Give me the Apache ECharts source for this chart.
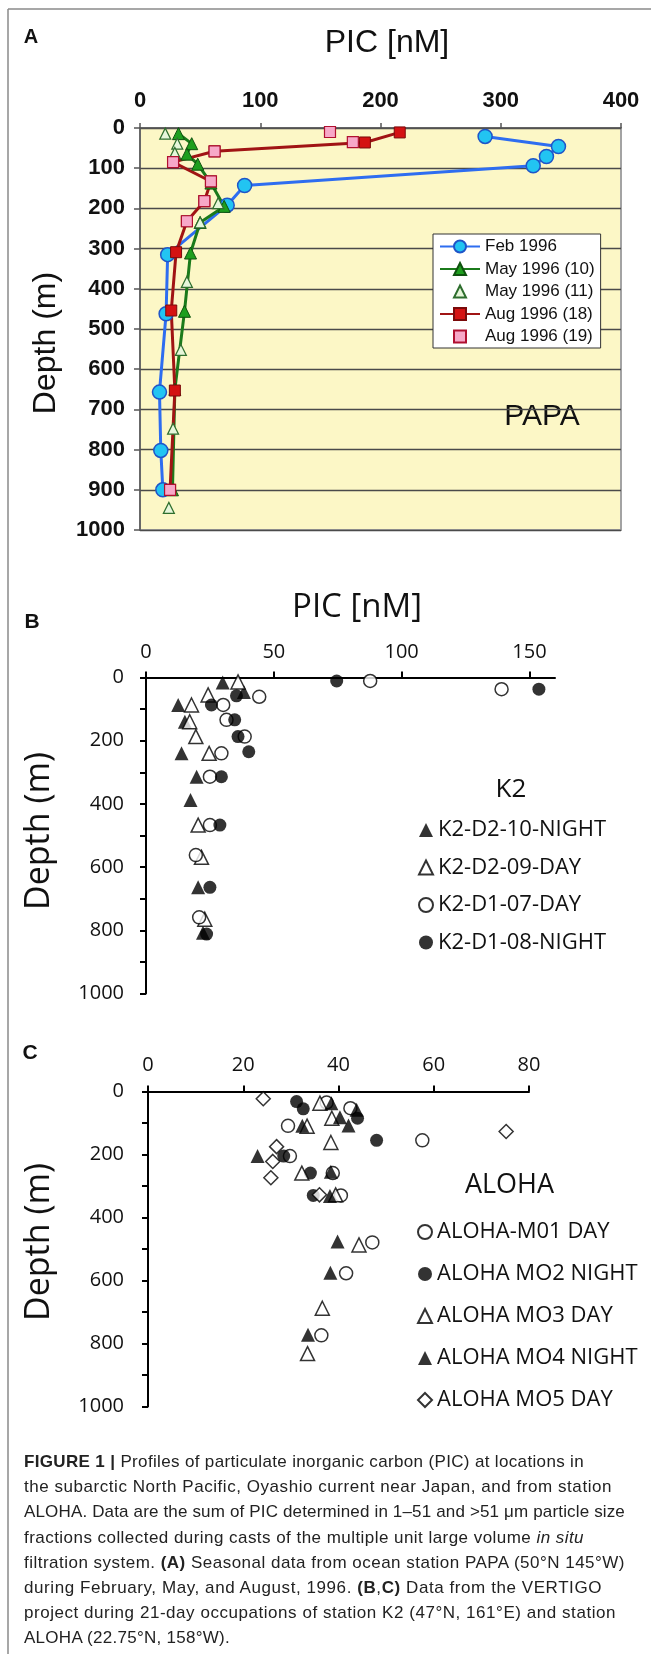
<!DOCTYPE html>
<html><head><meta charset="utf-8">
<script src="https://cdn.jsdelivr.net/npm/echarts@6/dist/echarts.min.js"></script>
<style>
html,body{margin:0;padding:0;background:#fff;}
#chart{position:absolute;left:0;top:0;width:651px;height:1654px;}
#cap{position:absolute;left:24px;top:1449px;font-family:'Liberation Sans',Arial,sans-serif;font-size:17px;line-height:25.2px;color:#222;}
#cap div{white-space:nowrap;}
</style></head><body>
<div id="chart"></div>
<div id="cap">
<div data-w="560"><b>FIGURE 1 |</b> Profiles of particulate inorganic carbon (PIC) at locations in</div>
<div data-w="588">the subarctic North Pacific, Oyashio current near Japan, and from station</div>
<div data-w="601">ALOHA. Data are the sum of PIC determined in 1–51 and &gt;51 μm particle size</div>
<div data-w="560">fractions collected during casts of the multiple unit large volume <i>in situ</i></div>
<div data-w="601">filtration system. <b>(A)</b> Seasonal data from ocean station PAPA (50°N 145°W)</div>
<div data-w="578">during February, May, and August, 1996. <b>(B</b>,<b>C)</b> Data from the VERTIGO</div>
<div data-w="592">project during 21-day occupations of station K2 (47°N, 161°E) and station</div>
<div data-w="206">ALOHA (22.75°N, 158°W).</div>
</div>
<script>
// ---------- Panel A: PAPA ----------
const papaXTicks = [0, 100, 200, 300, 400];
const febPIC = [287, 348, 338, 327, 87, 72.5, 23, 21.7, 16.2, 17.3, 19];
const febDepth = [21, 46, 71, 94, 143, 192, 315, 462, 657, 802, 900];
const may10PIC = [32, 43, 39, 48, 59, 70, 50, 42, 37, 29, 27];
const may10Depth = [14, 39, 65, 90, 137, 195, 235, 311, 456, 650, 900];
const may11PIC = [21, 31, 29, 65, 50, 39, 34, 27.5, 24];
const may11Depth = [14, 39, 62, 187, 235, 383, 552, 748, 945];
const aug18PIC = [216, 187, 62, 27.5, 59, 53.5, 39, 30, 26, 29, 25];
const aug18Depth = [11, 36, 58, 85, 133, 182, 232, 309, 454, 653, 900];
const aug19PIC = [158, 177, 62, 27.5, 59, 53.5, 39, 25];
const aug19Depth = [10, 35, 58, 85, 133, 182, 232, 900];

// ---------- Panel B: K2 ----------
const k2XTicks = [0, 50, 100, 150];
const k2D210PIC = [30, 38.3, 12.6, 15.2, 13.9, 19.8, 17.4, 20.4, 22.3];
const k2D210Depth = [16, 46, 87, 140, 240, 314, 388, 664, 808];
const k2D209PIC = [36, 24.3, 17.8, 17.1, 19.5, 24.7, 20.4, 21.7, 23];
const k2D209Depth = [14, 55, 87, 140, 187, 240, 467, 569, 765];
const k2D107PIC = [87.7, 139.1, 44.3, 30.2, 31.5, 38.6, 29.5, 25, 25, 19.5, 20.8];
const k2D107Depth = [11, 37, 61, 87, 134, 187, 240, 314, 467, 562, 759];
const k2D108PIC = [74.6, 153.7, 35.4, 25.6, 34.7, 36, 40.2, 29.5, 28.9, 25, 23.7];
const k2D108Depth = [11, 37, 58, 87, 134, 187, 235, 314, 467, 664, 812];

// ---------- Panel C: ALOHA ----------
const alohaXTicks = [0, 20, 40, 60, 80];
const m01PIC = [37.5, 42.5, 29.4, 57.6, 29.8, 38.8, 40.5, 47.1, 41.6, 36.4];
const m01Depth = [35, 53, 109, 155, 205, 259, 330, 479, 577, 774];
const m02PIC = [31.2, 32.6, 44, 48, 28.5, 34.1, 34.7];
const m02Depth = [32, 55, 85, 155, 205, 259, 330];
const m03PIC = [36.1, 38.6, 33.4, 38.4, 32.3, 39.4, 44.3, 36.6, 33.5];
const m03Depth = [37, 85, 110, 162, 259, 328, 487, 688, 832];
const m04PIC = [38.5, 43.8, 40.3, 42.1, 32.4, 23, 38.4, 38.2, 39.8, 38.3, 33.6];
const m04Depth = [37, 58, 82, 108, 109, 205, 255, 332, 476, 575, 772];
const m05PIC = [24.2, 75.2, 27, 26.2, 25.8, 36];
const m05Depth = [23, 127, 175, 222, 274, 328];

const depthTicksAll = [0, 100, 200, 300, 400, 500, 600, 700, 800, 900, 1000];
const depthLabelsBC = [0, 200, 400, 600, 800, 1000];

// ---------- build ----------
const FA = 'Liberation Sans';
const FB = 'Open Sans';
function pairs(xs, ys) { return xs.map((v, i) => [v, ys[i]]); }
const plain = function (v) { return String(v); };

const chart = echarts.init(document.getElementById('chart'), null, {renderer: 'canvas'});

function bcXAxis(grid, max, ticks, margin) {
  return {
    gridIndex: grid, type: 'value', position: 'top', min: 0, max: max,
    axisLine: {show: true, lineStyle: {color: '#000', width: 2}},
    axisTick: {show: true, length: 6, customValues: ticks, lineStyle: {color: '#000', width: 2}},
    axisLabel: {customValues: ticks, formatter: plain, fontFamily: FB, fontSize: 20, color: '#111', margin: margin},
    splitLine: {show: false}
  };
}
function bcYAxis(grid, margin) {
  return {
    gridIndex: grid, type: 'value', inverse: true, min: 0, max: 1000,
    axisLine: {show: true, onZero: false, lineStyle: {color: '#000', width: 2}},
    axisTick: {show: true, length: 6, customValues: depthTicksAll, lineStyle: {color: '#000', width: 2}},
    axisLabel: {customValues: depthLabelsBC, formatter: plain, fontFamily: FB, fontSize: 20, color: '#111', margin: margin},
    splitLine: {show: false}
  };
}
const openBlack = {color: '#fff', borderColor: '#000', borderWidth: 1.5};
const fillBlack = {color: '#000', borderColor: '#000', borderWidth: 0};

function sc(name, xi, xs, ys, symbol, size, style) {
  return {name: name, type: 'scatter', xAxisIndex: xi, yAxisIndex: xi, data: pairs(xs, ys),
    symbol: symbol, symbolSize: size, itemStyle: style, emphasis: {disabled: true}};
}
// marker-only series in panel A drawn as line series with a hidden line, so the legend shows a centred marker
function markOnly(name, xs, ys, symbol, size, style) {
  return {name: name, type: 'line', xAxisIndex: 0, yAxisIndex: 0, data: pairs(xs, ys),
    symbol: symbol, symbolSize: size, showAllSymbol: true, itemStyle: style,
    lineStyle: {width: 0, opacity: 0}, emphasis: {disabled: true}};
}

const option = {
  animation: false,
  backgroundColor: '#fff',
  grid: [
    {left: 140, top: 128, width: 481, height: 402, show: true, backgroundColor: '#FCF7C6', borderColor: '#a3a3a3', borderWidth: 2},
    {left: 146, top: 677.5, width: 409, height: 316},
    {left: 148, top: 1091.5, width: 381, height: 315}
  ],
  xAxis: [
    {gridIndex: 0, type: 'value', position: 'top', min: 0, max: 400, interval: 100,
      axisLine: {show: true, lineStyle: {color: '#555', width: 1.5}},
      axisTick: {show: true, length: 5, lineStyle: {color: '#555', width: 1.5}},
      axisLabel: {customValues: papaXTicks, formatter: plain, fontFamily: FA, fontWeight: 'bold', fontSize: 22, color: '#111', margin: 16},
      splitLine: {show: false}},
    bcXAxis(1, 160, k2XTicks, 15),
    bcXAxis(2, 80, alohaXTicks, 16)
  ],
  yAxis: [
    {gridIndex: 0, type: 'value', inverse: true, min: 0, max: 1000, interval: 100,
      axisLine: {show: true, lineStyle: {color: '#555', width: 1.5}},
      axisTick: {show: true, length: 6, lineStyle: {color: '#555', width: 1.5}},
      axisLabel: {formatter: plain, fontFamily: FA, fontWeight: 'bold', fontSize: 22, color: '#111', margin: 15},
      splitLine: {show: true, lineStyle: {color: '#4a4a4a', width: 1.3}}},
    bcYAxis(1, 22),
    bcYAxis(2, 24)
  ],
  legend: [
    {data: ['Feb 1996', 'May 1996 (10)', 'May 1996 (11)', 'Aug 1996 (18)', 'Aug 1996 (19)'],
      orient: 'vertical', left: 433, top: 234, padding: [4, 6, 3, 6], itemGap: 5.5,
      itemWidth: 40, itemHeight: 15, selectedMode: false,
      backgroundColor: '#fff', borderColor: '#333', borderWidth: 1,
      textStyle: {fontFamily: FA, fontSize: 17, color: '#111', lineHeight: 17}},
    {data: ['K2-D2-10-NIGHT', 'K2-D2-09-DAY', 'K2-D1-07-DAY', 'K2-D1-08-NIGHT'],
      orient: 'vertical', left: 418, top: 818, padding: 0, itemGap: 13.5,
      itemWidth: 14, itemHeight: 14, selectedMode: false,
      textStyle: {fontFamily: FB, fontSize: 22, color: '#111', lineHeight: 24}},
    {data: ['ALOHA-M01 DAY', 'ALOHA MO2 NIGHT', 'ALOHA MO3 DAY', 'ALOHA MO4 NIGHT', 'ALOHA MO5 DAY'],
      orient: 'vertical', left: 417, top: 1220, padding: 0, itemGap: 18,
      itemWidth: 14, itemHeight: 14, selectedMode: false,
      textStyle: {fontFamily: FB, fontSize: 22, color: '#111', lineHeight: 24}}
  ],
  series: [
    {name: 'Feb 1996', type: 'line', xAxisIndex: 0, yAxisIndex: 0, data: pairs(febPIC, febDepth),
      symbol: 'circle', symbolSize: 14, showAllSymbol: true,
      itemStyle: {color: '#22C4F2', borderColor: '#1F55C8', borderWidth: 1.5},
      lineStyle: {color: '#2E6DF0', width: 3}, emphasis: {disabled: true}},
    {name: 'May 1996 (10)', type: 'line', xAxisIndex: 0, yAxisIndex: 0, data: pairs(may10PIC, may10Depth),
      symbol: 'triangle', symbolSize: 12, showAllSymbol: true,
      itemStyle: {color: '#1E9E1E', borderColor: '#0E520E', borderWidth: 1},
      lineStyle: {color: '#1B7A1B', width: 3}, emphasis: {disabled: true}},
    {name: 'Aug 1996 (18)', type: 'line', xAxisIndex: 0, yAxisIndex: 0, data: pairs(aug18PIC, aug18Depth),
      symbol: 'rect', symbolSize: 11, showAllSymbol: true,
      itemStyle: {color: '#D41212', borderColor: '#7A0A0A', borderWidth: 1},
      lineStyle: {color: '#A01414', width: 3}, emphasis: {disabled: true}},
    markOnly('May 1996 (11)', may11PIC, may11Depth, 'triangle', 11, {color: '#E6F6DA', borderColor: '#2E6E2E', borderWidth: 1.2}),
    markOnly('Aug 1996 (19)', aug19PIC, aug19Depth, 'rect', 11, {color: '#F7A8C8', borderColor: '#B01030', borderWidth: 1.2}),

    sc('K2-D2-10-NIGHT', 1, k2D210PIC, k2D210Depth, 'triangle', 14, fillBlack),
    sc('K2-D2-09-DAY', 1, k2D209PIC, k2D209Depth, 'triangle', 14, openBlack),
    sc('K2-D1-07-DAY', 1, k2D107PIC, k2D107Depth, 'circle', 13, openBlack),
    sc('K2-D1-08-NIGHT', 1, k2D108PIC, k2D108Depth, 'circle', 13, fillBlack),

    sc('ALOHA-M01 DAY', 2, m01PIC, m01Depth, 'circle', 13, openBlack),
    sc('ALOHA MO2 NIGHT', 2, m02PIC, m02Depth, 'circle', 13, fillBlack),
    sc('ALOHA MO3 DAY', 2, m03PIC, m03Depth, 'triangle', 14, openBlack),
    sc('ALOHA MO4 NIGHT', 2, m04PIC, m04Depth, 'triangle', 14, fillBlack),
    sc('ALOHA MO5 DAY', 2, m05PIC, m05Depth, 'diamond', 14, openBlack)
  ],
  graphic: [
    {type: 'line', shape: {x1: 8, y1: 9, x2: 651, y2: 9}, style: {stroke: '#8a8a8a', lineWidth: 1.5}, silent: true},
    {type: 'line', shape: {x1: 8, y1: 9, x2: 8, y2: 1654}, style: {stroke: '#8a8a8a', lineWidth: 1.5}, silent: true},
    {type: 'text', x: 31, y: 37, style: {text: 'A', fontFamily: FA, fontWeight: 'bold', fontSize: 20, fill: '#111', align: 'center', verticalAlign: 'middle'}},
    {type: 'text', x: 387, y: 43, style: {text: 'PIC [nM]', fontFamily: FA, fontSize: 32, fill: '#111', align: 'center', verticalAlign: 'middle'}},
    {type: 'text', x: 46, y: 343, rotation: Math.PI / 2, style: {text: 'Depth (m)', fontFamily: FA, fontSize: 32, fill: '#111', align: 'center', verticalAlign: 'middle'}},
    {type: 'text', x: 542, y: 417, style: {text: 'PAPA', fontFamily: FA, fontSize: 30, fill: '#111', align: 'center', verticalAlign: 'middle'}},

    {type: 'text', x: 32, y: 622, style: {text: 'B', fontFamily: FA, fontWeight: 'bold', fontSize: 21, fill: '#111', align: 'center', verticalAlign: 'middle'}},
    {type: 'text', x: 357, y: 608, style: {text: 'PIC [nM]', fontFamily: FB, fontSize: 33, fill: '#111', align: 'center', verticalAlign: 'middle'}},
    {type: 'text', x: 39.5, y: 831, rotation: Math.PI / 2, style: {text: 'Depth (m)', fontFamily: FB, fontSize: 34, fill: '#111', align: 'center', verticalAlign: 'middle'}},
    {type: 'text', x: 511, y: 790, style: {text: 'K2', fontFamily: FB, fontSize: 26, fill: '#111', align: 'center', verticalAlign: 'middle'}},

    {type: 'text', x: 30, y: 1053, style: {text: 'C', fontFamily: FA, fontWeight: 'bold', fontSize: 21, fill: '#111', align: 'center', verticalAlign: 'middle'}},
    {type: 'text', x: 39.5, y: 1242, rotation: Math.PI / 2, style: {text: 'Depth (m)', fontFamily: FB, fontSize: 34, fill: '#111', align: 'center', verticalAlign: 'middle'}},
    {type: 'text', x: 509.5, y: 1185, style: {text: 'ALOHA', fontFamily: FB, fontSize: 27, fill: '#111', align: 'center', verticalAlign: 'middle'}}
  ]
};
chart.setOption(option);

// fit caption lines to their measured widths in the reference
document.querySelectorAll('#cap div').forEach(function (el) {
  const target = parseFloat(el.getAttribute('data-w'));
  el.style.display = 'inline-block';
  const w = el.getBoundingClientRect().width;
  const n = el.textContent.length;
  if (n > 1) el.style.letterSpacing = ((target - w) / n).toFixed(3) + 'px';
  el.style.display = 'block';
});
</script>
</body></html>
